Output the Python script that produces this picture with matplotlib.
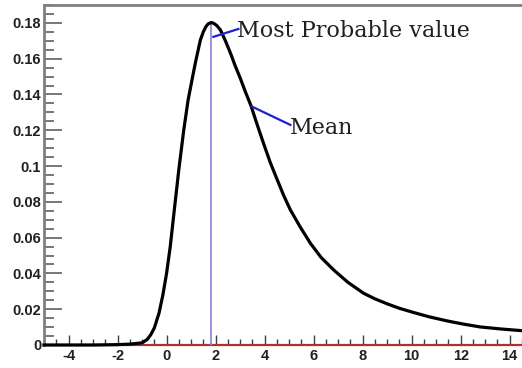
import numpy as np
import matplotlib.pyplot as plt
from matplotlib.ticker import MultipleLocator

plt.rcParams['axes.unicode_minus'] = False

# curva tipo Landau (valores leídos punto a punto)
x_vals = [-5.0, -3.0, -2.0, -1.5, -1.0, -0.8, -0.65, -0.5, -0.31, -0.15, 0.0,
          0.15, 0.30, 0.50, 0.70, 0.88, 1.05, 1.18, 1.38, 1.5, 1.6, 1.7, 1.82,
          1.92, 2.05, 2.2, 2.4, 2.61, 2.8, 3.01, 3.2, 3.45, 3.7, 3.96, 4.23,
          4.51, 4.78, 5.05, 5.45, 5.87, 6.3, 6.82, 7.4, 8.04, 8.5, 9.0, 9.5,
          10.07, 10.7, 11.43, 12.1, 12.79, 13.6, 14.5]
y_vals = [0.0, 0.0, 0.0002, 0.0005, 0.0012, 0.0030, 0.0056, 0.0095, 0.0177, 0.0280, 0.0400,
          0.0550, 0.0735, 0.0980, 0.1200, 0.1370, 0.1490, 0.1580, 0.1705, 0.1750, 0.1778, 0.1795, 0.1802,
          0.1798, 0.1785, 0.1760, 0.1700, 0.1630, 0.1560, 0.1490, 0.1420, 0.1335, 0.1230, 0.1125, 0.1020,
          0.0925, 0.0835, 0.0755, 0.0660, 0.0568, 0.0490, 0.0419, 0.0350, 0.0289, 0.0258, 0.0230, 0.0205,
          0.0182, 0.0158, 0.0135, 0.0117, 0.0101, 0.0090, 0.0080]

mpv = 1.82
y_mpv = 0.1802
x_mean = 3.49
y_mean = 0.1332

fig = plt.figure(figsize=(5.22, 3.68), dpi=100)
ax = fig.add_axes([44/522, 23/368, 478/522, 340/368])

ax.plot(x_vals, y_vals, color='black', lw=2.3, zorder=5, clip_on=False,
        solid_joinstyle='round')
ax.plot([mpv, mpv], [0, y_mpv], color='#8c8ce0', lw=1.3, zorder=4)

# etiquetas con su línea indicadora
ax.plot([1.91, 2.93], [0.1722, 0.1766], color='#2020d0', lw=1.6, zorder=6)
ax.text(2.89, 0.1722, 'Most Probable value', family='DejaVu Serif', fontsize=16,
        color='#202020', va='baseline', ha='left', zorder=7)
ax.plot([x_mean, 5.05], [y_mean, 0.1230], color='#2020d0', lw=1.6, zorder=6)
ax.text(5.05, 0.1180, 'Mean', family='DejaVu Serif', fontsize=16,
        color='#202020', va='baseline', ha='left', zorder=7)

ax.set_xlim(-5, 14.5)
ax.set_ylim(0, 0.19)

ax.xaxis.set_major_locator(MultipleLocator(2))
ax.xaxis.set_minor_locator(MultipleLocator(0.5))
ax.yaxis.set_major_locator(MultipleLocator(0.02))
ax.yaxis.set_minor_locator(MultipleLocator(0.005))
ax.yaxis.set_major_formatter(plt.FuncFormatter(lambda v, p: '0' if abs(v) < 1e-9 else ('%.2f' % v).rstrip('0')))

ax.tick_params(axis='y', which='major', direction='in', length=13, width=1.2, color='#606060', pad=2)
ax.tick_params(axis='y', which='minor', direction='in', length=7, width=1.2, color='#606060')
ax.tick_params(axis='x', which='major', direction='in', length=7.5, width=1.0, color='#404040', pad=3)
ax.tick_params(axis='x', which='minor', direction='in', length=4, width=1.0, color='#404040')
for lbl in ax.get_xticklabels() + ax.get_yticklabels():
    lbl.set_family('Liberation Sans')
    lbl.set_fontweight('bold')
    lbl.set_fontsize(10.5)
    lbl.set_color('#202020')

ax.spines['left'].set_color('#808080')
ax.spines['left'].set_linewidth(2.0)
ax.spines['top'].set_color('#808080')
ax.spines['top'].set_linewidth(2.0)
ax.spines['right'].set_visible(False)
ax.spines['bottom'].set_color('#b03030')
ax.spines['bottom'].set_linewidth(1.6)

fig.savefig('out.png', dpi=100)
